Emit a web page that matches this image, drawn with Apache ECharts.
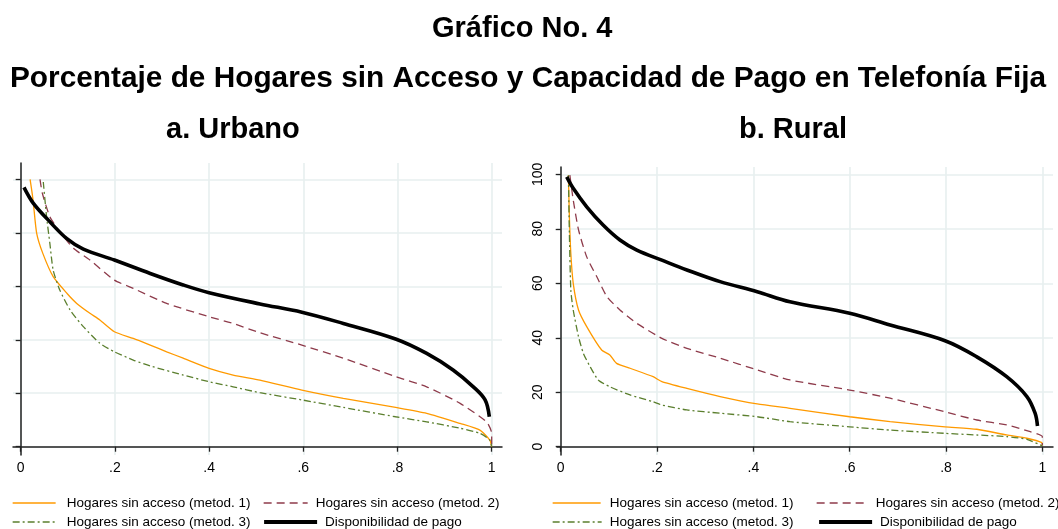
<!DOCTYPE html>
<html>
<head>
<meta charset="utf-8">
<script src="https://cdn.jsdelivr.net/npm/echarts@6/dist/echarts.min.js"></script>
<style>html,body{margin:0;padding:0;background:#fff;}#c{width:1058px;height:529px;}</style>
</head>
<body>
<div id="c"></div>
<script>
// ---- data ----
const seriesNames = ['Hogares sin acceso (metod. 1)', 'Hogares sin acceso (metod. 2)', 'Hogares sin acceso (metod. 3)', 'Disponibilidad de pago'];
const xTicks = [0, 0.2, 0.4, 0.6, 0.8, 1];
const yTicks = [0, 20, 40, 60, 80, 100];

// a. Urbano
const urbM1X = [0.020, 0.025, 0.027, 0.034, 0.047, 0.069, 0.098, 0.119, 0.147, 0.168, 0.199, 0.239, 0.275, 0.31, 0.345, 0.4, 0.451, 0.508, 0.597, 0.685, 0.796, 0.862, 0.933, 0.975, 0.996, 1.0];
const urbM1Y = [100, 94, 91, 79.8, 72.3, 63.6, 57.4, 53.6, 49.9, 47.4, 43.0, 40.5, 38.0, 35.5, 33.1, 29.3, 26.8, 24.9, 21.2, 18.1, 14.7, 12.5, 8.7, 6.2, 2.5, 0];
const urbM2X = [0.041, 0.046, 0.062, 0.083, 0.112, 0.147, 0.199, 0.239, 0.31, 0.4, 0.451, 0.508, 0.597, 0.685, 0.796, 0.862, 0.933, 0.989, 1.0, 1.0];
const urbM2Y = [100, 94.8, 86, 80.4, 74.2, 69.8, 62.3, 59.2, 53.6, 48.6, 46.1, 42.6, 38.0, 33.1, 26.2, 22.4, 16.2, 9.3, 5.0, 0];
const urbM3X = [0.048, 0.055, 0.062, 0.069, 0.083, 0.105, 0.133, 0.168, 0.199, 0.239, 0.275, 0.345, 0.4, 0.451, 0.508, 0.597, 0.685, 0.796, 0.862, 0.933, 0.975, 0.996, 1.0];
const urbM3Y = [99, 86, 76, 66, 58.6, 51.1, 44.9, 38.7, 35.5, 32.4, 30.2, 26.8, 24.3, 22.4, 20.2, 17.5, 14.7, 11.2, 9.3, 6.9, 5.0, 2.5, 0];
const urbPagoX = [0.007, 0.027, 0.062, 0.098, 0.133, 0.199, 0.275, 0.345, 0.4, 0.508, 0.597, 0.685, 0.796, 0.862, 0.918, 0.961, 0.986, 0.995];
const urbPagoY = [97.0, 91.0, 84.1, 77.8, 73.9, 69.8, 64.8, 60.5, 57.6, 53.4, 50.3, 46.1, 40.3, 34.9, 28.7, 22.4, 17.5, 11.2];

// b. Rural
const rurM1X = [0.016, 0.018, 0.021, 0.026, 0.037, 0.054, 0.085, 0.102, 0.116, 0.144, 0.192, 0.21, 0.262, 0.331, 0.408, 0.476, 0.6, 0.684, 0.798, 0.864, 0.926, 0.968, 0.999, 1.0];
const rurM1Y = [99.7, 84.4, 71, 60, 50.2, 44.1, 35.5, 33.7, 30.6, 28.8, 25.7, 23.9, 21.4, 18.4, 15.7, 14.1, 11.0, 9.2, 7.3, 6.4, 4.3, 3.1, 1.5, 0.4];
const rurM2X = [0.019, 0.026, 0.037, 0.054, 0.075, 0.096, 0.123, 0.158, 0.21, 0.262, 0.331, 0.408, 0.476, 0.6, 0.684, 0.798, 0.864, 0.926, 0.975, 1.0, 1.0];
const rurM2Y = [99.7, 90.6, 79.6, 69.7, 62.4, 55.1, 50.2, 45.3, 39.8, 36.1, 32.5, 28.2, 24.5, 20.8, 17.8, 12.8, 9.8, 8.0, 5.5, 3.7, 0.5];
const rurM3X = [0.016, 0.018, 0.021, 0.026, 0.037, 0.047, 0.061, 0.078, 0.102, 0.144, 0.192, 0.21, 0.262, 0.331, 0.408, 0.476, 0.6, 0.684, 0.798, 0.864, 0.926, 0.968, 1.0];
const rurM3Y = [99.7, 78.3, 57.5, 50.2, 40.4, 34.3, 29.4, 24.5, 22.0, 19.0, 16.5, 15.3, 13.5, 12.3, 11.0, 9.2, 7.3, 6.1, 4.9, 4.3, 3.7, 2.7, 0.3];
const rurPagoX = [0.0125, 0.026, 0.054, 0.088, 0.123, 0.158, 0.21, 0.262, 0.331, 0.408, 0.476, 0.6, 0.684, 0.798, 0.864, 0.926, 0.968, 0.985, 0.99];
const rurPagoY = [99.1, 94.9, 88.1, 81.4, 75.9, 72.2, 68.5, 64.9, 60.6, 56.9, 53.2, 49.0, 44.7, 38.9, 33.0, 25.7, 18.4, 12.3, 7.6];

// ---- build ----
const zip = (xs, ys) => xs.map((x, i) => [x, ys[i]]);
const FONT = '"Liberation Sans", Arial, sans-serif';
const styles = [
  { color: '#FF9A00', width: 1.3, type: 'solid', smooth: 0.2 },
  { color: '#8E3B4B', width: 1.3, type: [8, 5], smooth: 0.2 },
  { color: '#5B7F2E', width: 1.3, type: [7, 3, 2, 3], smooth: 0.2 },
  { color: '#000000', width: 3.6, type: 'solid', smooth: 0.35 }
];
const panels = [
  [zip(urbM1X, urbM1Y), zip(urbM2X, urbM2Y), zip(urbM3X, urbM3Y), zip(urbPagoX, urbPagoY)],
  [zip(rurM1X, rurM1Y), zip(rurM2X, rurM2Y), zip(rurM3X, rurM3Y), zip(rurPagoX, rurPagoY)]
];
const series = [];
panels.forEach((p, gi) => {
  p.forEach((d, si) => {
    series.push({
      type: 'line', name: seriesNames[si], xAxisIndex: gi, yAxisIndex: gi,
      data: d, symbol: 'none', showSymbol: false, animation: false,
      smooth: styles[si].smooth,
      lineStyle: { color: styles[si].color, width: styles[si].width, type: styles[si].type },
      itemStyle: { color: styles[si].color },
      z: si === 3 ? 4 : 3, clip: true
    });
  });
});

const gridLine = { show: true, lineStyle: { color: '#E7EFEF', width: 1.6 } };
const axisLine = { show: true, lineStyle: { color: '#222', width: 1.5 } };
const tickFmt = v => (v === 0 ? '0' : v === 1 ? '1' : String(+v.toFixed(1)).replace(/^0/, ''));

function xAx(gi, min, max) {
  return {
    type: 'value', gridIndex: gi, min: min, max: max,
    axisLine: axisLine,
    axisTick: { show: true, customValues: xTicks, length: 5, lineStyle: { color: '#222', width: 1.3 } },
    axisLabel: { show: true, customValues: xTicks, formatter: tickFmt, color: '#000', fontSize: 14, fontFamily: FONT, margin: 6 },
    splitLine: gridLine
  };
}
function yAx(gi, min, max, showLabel) {
  return {
    type: 'value', gridIndex: gi, min: min, max: max,
    axisLine: axisLine,
    axisTick: { show: true, customValues: yTicks, length: 5, lineStyle: { color: '#222', width: 1.3 } },
    axisLabel: { show: showLabel, customValues: yTicks, rotate: 90, color: '#000', fontSize: 14, fontFamily: FONT, margin: 12 },
    splitLine: gridLine
  };
}

function leg(si, left, top, w, gap) {
  return {
    data: [seriesNames[si]], left: left, top: top, itemWidth: w, itemHeight: 12, padding: 0,
    selectedMode: false,
    itemStyle: { opacity: 0, borderWidth: 0 },
    lineStyle: { width: si === 3 ? 4.2 : 1.3 },
    textStyle: { fontSize: 13.5, color: '#000', fontFamily: FONT, padding: [0, 0, 0, gap - 5] }
  };
}
const tStyle = { fontSize: 29, fontWeight: 'bold', color: '#000', fontFamily: FONT };

const option = {
  backgroundColor: '#fff',
  animation: false,
  title: [
    { text: 'Gráfico No. 4', left: 432, top: 14, padding: 0, textStyle: tStyle },
    { text: 'Porcentaje de Hogares sin Acceso y Capacidad de Pago en Telefonía Fija', left: 10, top: 64, padding: 0, textStyle: Object.assign({}, tStyle, { fontSize: 29.8 }) },
    { text: 'a. Urbano', left: 166, top: 115, padding: 0, textStyle: tStyle },
    { text: 'b. Rural', left: 739, top: 115, padding: 0, textStyle: tStyle }
  ],
  grid: [
    { left: 13, top: 163, width: 489, height: 292 },
    { left: 557, top: 167, width: 496, height: 288 }
  ],
  xAxis: [xAx(0, -0.0163, 1.0219), xAx(1, -0.0077, 1.0222)],
  yAxis: [yAx(0, -3.1, 106.1, false), yAx(1, -3.05, 102.7, true)],
  legend: [
    leg(0, 12, 496, 43, 11),
    leg(1, 263, 496, 44, 8),
    leg(2, 12, 515, 45, 9),
    leg(3, 262, 515, 53, 8),
    leg(0, 552, 496, 48, 9),
    leg(1, 816, 496, 51, 8),
    leg(2, 552, 515, 49, 8),
    leg(3, 817, 515, 53, 8)
  ],
  series: series
};
const chart = echarts.init(document.getElementById('c'), null, { renderer: 'canvas' });
chart.setOption(option);
</script>
</body>
</html>
